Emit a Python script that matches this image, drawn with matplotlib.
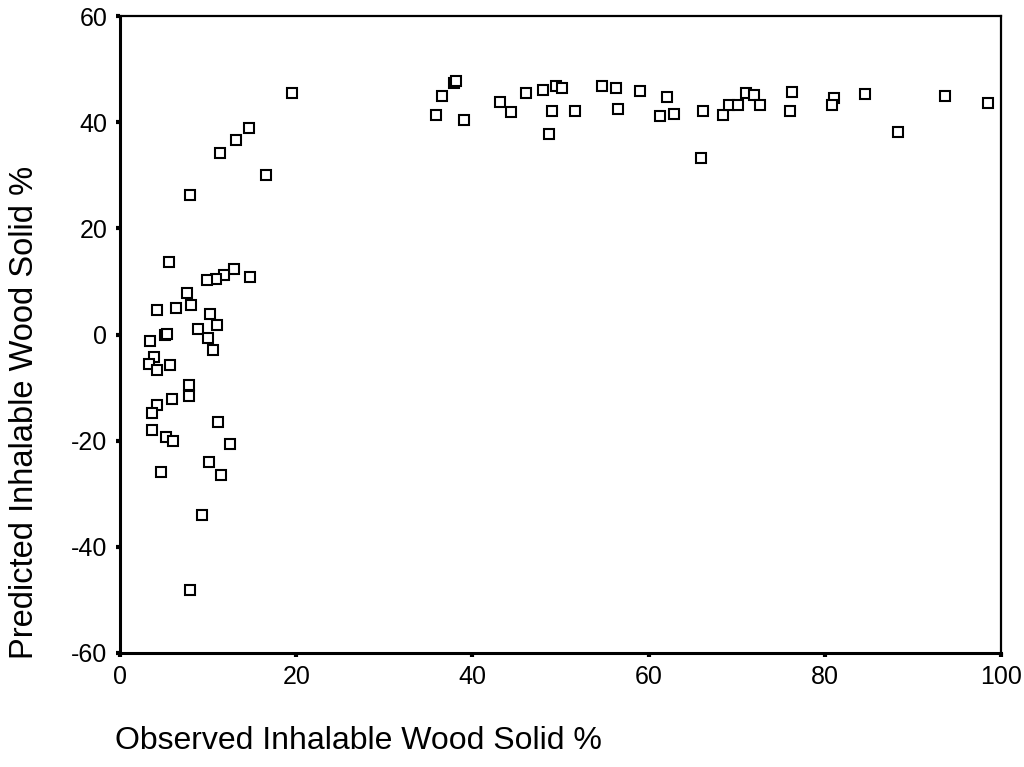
import matplotlib.pyplot as plt

plt.rcParams['font.family'] = ['Liberation Sans', 'DejaVu Sans']
plt.rcParams['axes.unicode_minus'] = False

# observed vs predicted inhalable wood solid (%)
observed = [
    5.6, 12.9, 11.8, 10.9, 9.9, 14.7, 7.6, 4.2, 6.4, 8.1,
    10.2, 11.0, 8.9, 10.0, 10.6, 5.1, 5.3, 3.4, 3.9, 3.3,
    4.2, 5.7, 7.8, 7.8, 5.9, 4.2, 3.6, 11.1, 3.6, 5.2,
    6.0, 12.5, 10.1, 11.5, 4.7, 9.3, 8.0,
    19.5, 14.6, 13.2, 11.4, 16.6, 8.0,
    35.9, 36.5, 37.9, 38.1, 39.0, 43.1, 44.4, 46.1, 48.0, 49.5,
    50.2, 49.0, 48.7, 51.6, 54.7, 56.3, 56.5, 59.0, 62.1, 61.3,
    62.9, 66.2, 65.9, 68.4, 69.1, 70.2, 71.1, 72.0, 72.7, 76.3,
    76.1, 81.0, 80.8, 84.6, 88.3, 93.7, 98.5,
]
predicted = [
    13.7, 12.4, 11.3, 10.5, 10.2, 10.9, 7.9, 4.7, 4.9, 5.5,
    3.8, 1.7, 1.1, -0.6, -3.0, 0.0, 0.1, -1.3, -4.3, -5.5,
    -6.6, -5.8, -9.6, -11.5, -12.2, -13.3, -14.8, -16.4, -17.9, -19.4,
    -20.1, -20.7, -24.1, -26.5, -25.9, -34.0, -48.1,
    45.5, 38.9, 36.7, 34.2, 30.1, 26.3,
    41.4, 44.9, 47.4, 47.8, 40.4, 43.8, 41.9, 45.5, 46.1, 46.8,
    46.4, 42.1, 37.8, 42.1, 46.8, 46.4, 42.5, 45.9, 44.7, 41.2,
    41.5, 42.1, 33.3, 41.4, 43.2, 43.2, 45.5, 45.1, 43.2, 45.7,
    42.1, 44.5, 43.2, 45.3, 38.2, 44.9, 43.6,
]

xticks = [0, 20, 40, 60, 80, 100]
yticks = [-60, -40, -20, 0, 20, 40, 60]

fig = plt.figure(figsize=(10.24, 7.67), dpi=100)
ax = fig.add_axes([120 / 1024, 1 - 653 / 767, 881 / 1024, 637 / 767])

ax.plot(observed, predicted, linestyle='none', marker='s', markersize=7.5,
        markerfacecolor='white', markeredgecolor='black', markeredgewidth=1.5)

ax.set_xlim(0, 100)
ax.set_ylim(-60, 60)
ax.set_xticks(xticks)
ax.set_yticks(yticks)
ax.tick_params(direction='out', length=3, width=3, labelsize=18, pad=6, colors='black')

for side in ['left', 'bottom']:
    ax.spines[side].set_linewidth(2.2)
for side in ['top', 'right']:
    ax.spines[side].set_linewidth(1.6)

fig.text(25 / 1024, 1 - 412 / 767, 'Predicted Inhalable Wood Solid %', rotation=90,
         ha='center', va='center', fontsize=23.5)
fig.text(115 / 1024, 1 - 741 / 767, 'Observed Inhalable Wood Solid %',
         ha='left', va='center', fontsize=23)

fig.savefig('out.png', dpi=100)
